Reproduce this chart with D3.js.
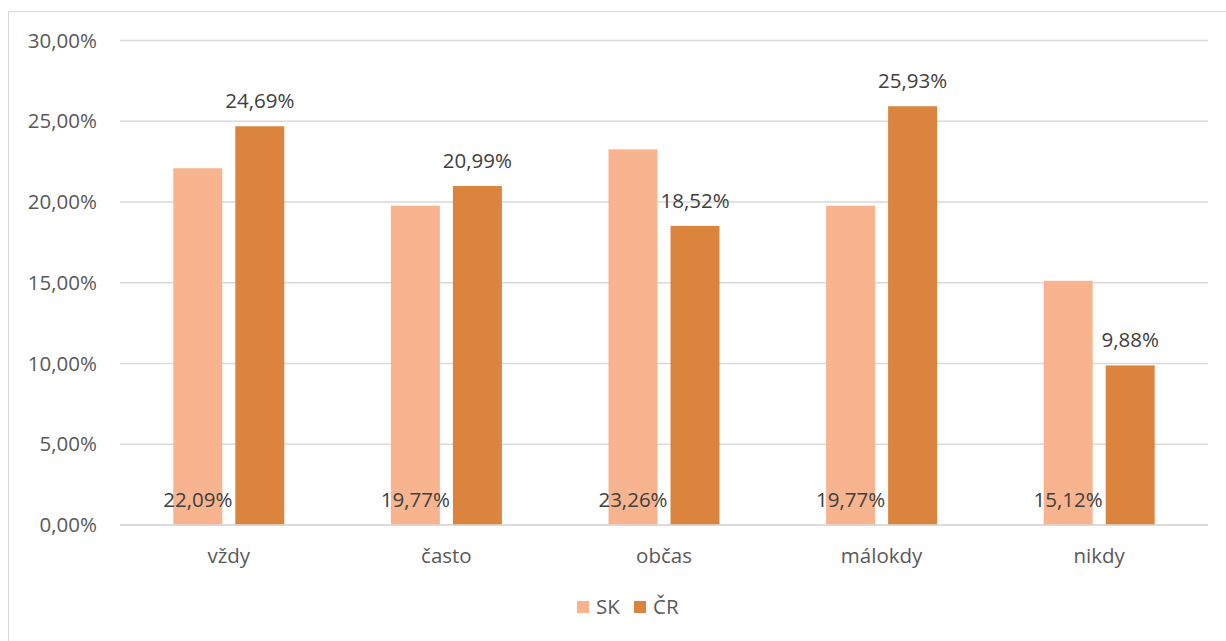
<!DOCTYPE html>
<html>
<head>
<meta charset="utf-8">
<script src="https://cdn.jsdelivr.net/npm/d3@7"></script>
<style>
  body { margin: 0; background: #fff; }
  text { font-family: "Open Sans", "Noto Sans", sans-serif; }
</style>
</head>
<body>
<svg id="chart" width="1226" height="641"></svg>
<script>
var categories = ["vždy", "často", "občas", "málokdy", "nikdy"];
var seriesNames = ["SK", "ČR"];
var skValues = [22.09, 19.77, 23.26, 19.77, 15.12];
var crValues = [24.69, 20.99, 18.52, 25.93, 9.88];
var yTicks = [0, 5, 10, 15, 20, 25, 30];
var colors = ["#F8B48F", "#DB843D"];

var width = 1226, height = 641;
var plot = { left: 120, right: 1208, top: 40.5, bottom: 525 };
var fontSize = 20.5;

var svg = d3.select("#chart");

// chart border
svg.append("rect")
  .attr("x", 8.5).attr("y", 11.5)
  .attr("width", 1230).attr("height", 640)
  .attr("fill", "none")
  .attr("stroke", "#d9d9d9")
  .attr("stroke-width", 1);

var fmt = function(v) { return v.toFixed(2).replace(".", ",") + "%"; };

var y = d3.scaleLinear().domain([0, 30]).range([plot.bottom, plot.top]);
var x0 = d3.scaleBand().domain(categories).range([plot.left, plot.right]).padding(0);
var groupW = 111;
var x1 = d3.scaleBand().domain(seriesNames)
  .range([(x0.bandwidth() - groupW) / 2, (x0.bandwidth() + groupW) / 2])
  .paddingInner(0.21).paddingOuter(0);

// gridlines
svg.append("g").selectAll("line")
  .data(yTicks)
  .enter().append("line")
  .attr("x1", plot.left).attr("x2", plot.right)
  .attr("y1", function(d) { return y(d); })
  .attr("y2", function(d) { return y(d); })
  .attr("stroke", "#d9d9d9")
  .attr("stroke-width", 1.5);

// y tick labels
svg.append("g").selectAll("text")
  .data(yTicks)
  .enter().append("text")
  .attr("x", 97)
  .attr("y", function(d) { return y(d); })
  .attr("dy", "0.35em")
  .attr("text-anchor", "end")
  .attr("font-size", fontSize)
  .attr("fill", "#595959")
  .text(function(d) { return fmt(d); });

var data = categories.map(function(c, i) {
  return { cat: c, vals: [
    { s: "SK", v: skValues[i], k: 0 },
    { s: "ČR", v: crValues[i], k: 1 }
  ] };
});

var groups = svg.append("g").selectAll("g")
  .data(data)
  .enter().append("g")
  .attr("transform", function(d) { return "translate(" + x0(d.cat) + ",0)"; });

groups.selectAll("rect")
  .data(function(d) { return d.vals; })
  .enter().append("rect")
  .attr("x", function(d) { return x1(d.s); })
  .attr("y", function(d) { return y(d.v); })
  .attr("width", x1.bandwidth())
  .attr("height", function(d) { return y(0) - y(d.v); })
  .attr("fill", function(d) { return colors[d.k]; });

// data labels: SK at inside base, ČR above the bar
groups.selectAll("text.lbl")
  .data(function(d) { return d.vals; })
  .enter().append("text")
  .attr("class", "lbl")
  .attr("x", function(d) { return x1(d.s) + x1.bandwidth() / 2; })
  .attr("y", function(d) { return d.k === 0 ? y(0) - 18 : y(d.v) - 18; })
  .attr("text-anchor", "middle")
  .attr("font-size", fontSize)
  .attr("fill", "#404040")
  .text(function(d) { return fmt(d.v); });

// x axis line
svg.append("line")
  .attr("x1", plot.left).attr("x2", plot.right)
  .attr("y1", y(0)).attr("y2", y(0))
  .attr("stroke", "#d9d9d9").attr("stroke-width", 1.5);

// category labels
svg.append("g").selectAll("text")
  .data(categories)
  .enter().append("text")
  .attr("x", function(d) { return x0(d) + x0.bandwidth() / 2; })
  .attr("y", 563)
  .attr("text-anchor", "middle")
  .attr("font-size", fontSize)
  .attr("fill", "#595959")
  .text(function(d) { return d; });

// legend
var legend = svg.append("g").attr("transform", "translate(577,601)");
var legX = [0, 57];
seriesNames.forEach(function(s, i) {
  legend.append("rect")
    .attr("x", legX[i]).attr("y", 0)
    .attr("width", 12).attr("height", 12)
    .attr("fill", colors[i]);
  legend.append("text")
    .attr("x", legX[i] + 19).attr("y", 6)
    .attr("dy", "0.35em")
    .attr("font-size", fontSize)
    .attr("fill", "#595959")
    .text(s);
});
</script>
</body>
</html>
